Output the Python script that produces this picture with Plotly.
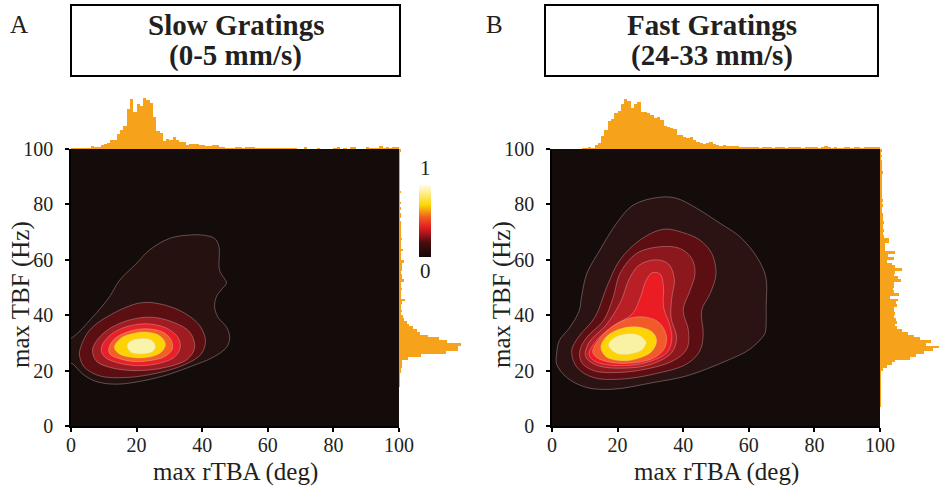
import plotly.graph_objects as go

W, H = 940, 494
FONT = "Liberation Serif"
ORANGE = "#F7A21B"

# ---------------- marginal histogram data (1-unit bins, 0..99) ----------------
bin_centers = [i + 0.5 for i in range(100)]

slow_rtba_counts = [1, 1, 1, 2, 2, 3, 8, 6, 5, 11,
                    16, 19, 28, 28, 46, 58, 70, 120, 150, 112,
                    136, 130, 154, 148, 138, 96, 55, 48, 24, 31,
                    28, 35, 26, 20, 22, 12, 14, 15, 15, 12,
                    12, 9, 9, 11, 11, 7, 7, 3, 3, 3,
                    5, 5, 3, 5, 5, 6, 3, 3, 3, 3,
                    2, 3, 1, 1, 1, 1, 3, 3, 3, 0,
                    0, 6, 0, 0, 0, 3, 0, 0, 0, 0,
                    3, 6, 0, 3, 0, 6, 6, 0, 0, 0,
                    6, 3, 3, 3, 9, 3, 6, 3, 6, 6]

slow_tbf_counts = [0, 0, 0, 0, 0, 0, 0, 0, 0, 0,
                   0, 0, 0, 0, 2, 2, 1, 2, 2, 4,
                   4, 8, 8, 8, 28, 66, 140, 176, 177, 185,
                   143, 119, 86, 63, 54, 41, 30, 24, 14, 13,
                   7, 8, 6, 7, 8, 18, 6, 7, 6, 8,
                   6, 6, 15, 8, 9, 7, 10, 8, 8, 15,
                   5, 4, 5, 11, 6, 7, 5, 8, 6, 5,
                   4, 6, 5, 4, 3, 5, 4, 3, 4, 3,
                   4, 3, 2, 3, 4, 2, 3, 2, 3, 2,
                   2, 3, 2, 1, 2, 3, 2, 2, 3, 4]

fast_rtba_counts = [0, 0, 0, 0, 0, 0, 0, 0, 0, 1,
                    3, 5, 3, 11, 19, 40, 58, 85, 90, 109,
                    115, 135, 150, 145, 122, 136, 140, 112, 111, 107,
                    102, 94, 95, 88, 70, 65, 62, 61, 42, 42,
                    36, 33, 35, 28, 21, 17, 15, 19, 20, 15,
                    12, 10, 12, 8, 8, 9, 8, 6, 6, 5,
                    4, 5, 4, 3, 5, 4, 4, 3, 5, 4,
                    4, 3, 5, 4, 5, 4, 3, 4, 5, 4,
                    4, 3, 4, 8, 4, 3, 4, 3, 3, 4,
                    5, 3, 4, 5, 3, 4, 5, 6, 4, 5]

fast_tbf_counts = [0, 0, 0, 0, 0, 0, 0, 2, 1, 2,
                   1, 2, 2, 1, 2, 2, 1, 2, 3, 3,
                   9, 21, 36, 45, 90, 110, 134, 161, 180, 141,
                   156, 121, 104, 84, 66, 53, 46, 51, 49, 43,
                   46, 41, 43, 51, 48, 56, 31, 57, 41, 39,
                   41, 41, 63, 56, 41, 44, 68, 44, 36, 21,
                   41, 23, 44, 16, 16, 16, 26, 27, 12, 10,
                   12, 9, 10, 11, 10, 10, 8, 6, 7, 8,
                   6, 8, 6, 5, 6, 5, 5, 6, 4, 5,
                   5, 10, 4, 5, 4, 6, 3, 4, 3, 5]

# ---------------- density contour outlines (deg, Hz), outer -> inner ----------------
slow_level_x = [
    [-3, 0.5, 6.6, 11.7, 14.8, 19.9, 23.9, 30.0, 35.6, 40.2, 43.8, 45.1, 45.3, 47.4, 46.1, 44.3, 43.8, 44.8, 47.4, 48.4, 47.4, 43.3, 37.2, 30.0, 21.9, 13.7, 7.6, 3.6, 0.5, -3],
    [2.7, 5.6, 11.7, 20.9, 27.0, 34.1, 39.2, 41.0, 39.7, 35.1, 27.0, 16.8, 8.7, 4.1, 2.7],
    [6.6, 9.7, 15.8, 23.9, 31.1, 36.2, 37.7, 35.6, 29.0, 19.9, 11.7, 7.6],
    [9.2, 11.2, 15.8, 22.9, 29.0, 32.6, 33.3, 31.5, 26.0, 19.9, 13.7, 10.2],
    [11.5, 13.2, 17.8, 22.9, 28.0, 30.5, 30.9, 28.5, 24.0, 18.8, 14.3, 11.9],
    [13.2, 15.3, 19.3, 22.9, 27.0, 28.8, 27.5, 23.4, 18.3, 14.5],
    [17.1, 18.3, 21.4, 24.4, 25.7, 25.0, 21.4, 18.2],
]
slow_level_y = [
    [30, 32.0, 39.3, 46.6, 52.6, 58.6, 63.5, 67.7, 68.9, 68.9, 67.7, 64.9, 56.2, 51.6, 49.6, 46.6, 42.9, 39.3, 35.7, 32.0, 28.4, 24.8, 21.8, 18.7, 16.3, 15.1, 16.1, 18.7, 22.4, 24],
    [27.4, 34.5, 39.9, 44.4, 44.1, 41.1, 36.3, 30.8, 26.0, 22.4, 19.3, 17.5, 18.1, 21.2, 24.8],
    [27.8, 33.3, 37.5, 39.3, 37.5, 33.9, 28.4, 24.2, 21.2, 20.0, 21.2, 23.6],
    [27.8, 32.0, 35.4, 36.9, 35.4, 32.0, 28.4, 24.8, 22.4, 21.8, 23.0, 25.0],
    [27.8, 31.4, 34.2, 35.1, 33.9, 31.1, 27.8, 25.0, 23.6, 23.3, 24.5, 25.9],
    [28.4, 31.8, 33.5, 33.9, 32.6, 29.6, 26.6, 24.8, 24.8, 26.2],
    [29.0, 30.8, 31.6, 31.1, 29.0, 27.0, 26.0, 26.7],
]
slow_level_colors = ["#261111", "#5c0f12", "#a01c22", "#e8202a", "#f26122", "#fdd304", "#f9f3ac"]

fast_level_x = [
    [1.4, 2.2, 5.5, 8.3, 9.0, 10.6, 14.6, 19.7, 24.8, 32.9, 38.0, 44.1, 51.2, 57.3, 62.4, 65.2, 65.3, 65.2, 64.9, 60.4, 53.3, 41.1, 30.9, 18.7, 10.6, 4.5, 1.4],
    [6.0, 8.0, 13.1, 16.7, 20.7, 26.8, 33.9, 40.0, 45.1, 48.7, 50.0, 48.2, 45.6, 46.1, 45.1, 41.1, 30.9, 20.7, 12.6, 7.6],
    [8.5, 10.6, 15.7, 18.7, 20.7, 25.8, 32.9, 39.0, 42.6, 43.6, 42.1, 40.0, 41.6, 41.1, 37.0, 28.9, 19.7, 12.6, 9.0],
    [10.1, 11.5, 16.5, 21.0, 23.5, 26.5, 31.5, 35.5, 37.3, 36.5, 36.3, 38.0, 36.5, 30.0, 22.0, 14.5, 11.0],
    [11.3, 13.3, 18.5, 24.5, 27.0, 28.5, 30.5, 33.0, 34.0, 34.0, 36.0, 36.5, 35.0, 29.0, 22.0, 15.0, 12.3],
    [12.4, 14.5, 18.5, 24.0, 28.5, 32.5, 34.8, 34.3, 30.5, 22.0, 16.0, 13.3],
    [14.9, 16.8, 21.5, 26.5, 30.5, 31.9, 30.5, 26.0, 21.0, 16.5],
    [17.2, 19.2, 23.0, 26.5, 28.7, 27.5, 24.0, 19.5],
]
fast_level_y = [
    [26.0, 30.8, 35.7, 41.7, 46.6, 55.0, 63.5, 73.2, 79.8, 82.6, 82.2, 78.6, 73.2, 68.3, 61.1, 53.8, 43.5, 35.0, 33.3, 27.8, 23.6, 18.1, 15.7, 13.3, 13.9, 17.5, 22.4],
    [27.2, 32.0, 39.3, 50.2, 59.9, 67.1, 71.0, 69.8, 67.1, 62.3, 55.0, 47.8, 41.7, 33.3, 27.2, 22.4, 18.7, 16.9, 17.5, 21.2],
    [27.2, 32.0, 38.1, 46.6, 55.0, 62.3, 64.7, 64.1, 60.5, 55.0, 49.0, 41.7, 34.5, 27.8, 23.6, 20.6, 19.3, 20.0, 23.0],
    [26.0, 30.5, 36.5, 45.0, 53.0, 58.0, 60.0, 58.5, 53.0, 46.0, 39.0, 32.0, 26.5, 22.2, 20.9, 21.6, 23.8],
    [26.0, 30.5, 36.0, 40.5, 46.6, 52.0, 55.3, 54.8, 50.0, 43.0, 36.0, 31.0, 26.5, 23.0, 21.8, 22.5, 24.0],
    [27.0, 31.5, 36.0, 39.0, 39.3, 37.5, 33.0, 28.0, 24.3, 22.6, 23.5, 25.0],
    [28.5, 32.5, 35.3, 35.7, 34.0, 31.0, 27.0, 24.3, 23.6, 25.0],
    [29.3, 32.0, 33.3, 32.8, 30.3, 27.5, 26.0, 26.3],
]
fast_level_colors = ["#2c1313", "#5c0e12", "#8c181d", "#bb1f26", "#ec1c24", "#f15a29", "#fed304", "#f9f2a2"]

x_ticks = [0, 20, 40, 60, 80, 100]
y_ticks = [0, 20, 40, 60, 80, 100]

hot_scale = [[0.0, "#120808"], [0.2, "#4a0c0e"], [0.4, "#e01b23"], [0.55, "#f15a24"],
             [0.72, "#fdd700"], [1.0, "#fffbe8"]]

# ---------------- figure ----------------
fig = go.Figure()

def add_panel(level_x, level_y, colors, rtba, tbf, xm, ym, xt, yt, xr, yr):
    for lx, ly, c in zip(level_x, level_y, colors):
        fig.add_trace(go.Scatter(
            x=lx + [lx[0]], y=ly + [ly[0]], mode="lines", fill="toself", fillcolor=c,
            line=dict(color="rgba(225,200,200,0.5)", width=0.7, shape="spline", smoothing=1.0),
            xaxis=xm, yaxis=ym, hoverinfo="skip", showlegend=False))
    fig.add_trace(go.Bar(x=bin_centers, y=rtba, width=1.0, marker=dict(color=ORANGE, line=dict(width=0)),
                         xaxis=xt, yaxis=yt, showlegend=False, hoverinfo="skip"))
    fig.add_trace(go.Bar(y=bin_centers, x=tbf, width=1.0, orientation="h",
                         marker=dict(color=ORANGE, line=dict(width=0)),
                         xaxis=xr, yaxis=yr, showlegend=False, hoverinfo="skip"))

add_panel(slow_level_x, slow_level_y, slow_level_colors, slow_rtba_counts, slow_tbf_counts,
          "x", "y", "x2", "y2", "x3", "y3")
add_panel(fast_level_x, fast_level_y, fast_level_colors, fast_rtba_counts, fast_tbf_counts,
          "x4", "y4", "x5", "y5", "x6", "y6")

# colour bar (panel A)
fig.add_trace(go.Scatter(
    x=[-50], y=[-50], mode="markers", xaxis="x", yaxis="y", showlegend=False, hoverinfo="skip",
    marker=dict(color=[0.5], cmin=0, cmax=1, colorscale=hot_scale, showscale=True,
                colorbar=dict(x=419 / W, xanchor="left", y=1 - 221 / H, yanchor="middle",
                              len=72 / H, lenmode="fraction", thickness=12, thicknessmode="pixels",
                              outlinewidth=0, showticklabels=False, ticks="", xpad=0, ypad=0))))

def px(v):
    return v / W

def py(v):
    return 1 - v / H

main_y_dom = [py(426), py(149)]
top_y_dom = [py(149), py(94)]
tickfont = dict(family=FONT, size=20, color="#231f20")

def main_axis(dom, vals, standoff):
    return dict(domain=dom, range=[0, 100], tickvals=vals, ticks="outside", ticklen=4, tickwidth=1.5,
                tickcolor="black", showline=True, linecolor="black", linewidth=1.5, showgrid=False,
                zeroline=False, tickfont=tickfont, fixedrange=True, automargin=False,
                ticklabelstandoff=standoff)

def hidden(dom, rng):
    return dict(domain=dom, range=rng, visible=False, showgrid=False, zeroline=False, fixedrange=True)

fig.update_layout(
    width=W, height=H, margin=dict(l=0, r=0, t=0, b=0, autoexpand=False),
    paper_bgcolor="white", plot_bgcolor="rgba(0,0,0,0)", bargap=0, showlegend=False,
    xaxis=dict(main_axis([px(71), px(399)], x_ticks, -4), anchor="y"),
    yaxis=dict(main_axis(main_y_dom, y_ticks, 8), anchor="x"),
    xaxis2=dict(hidden([px(71), px(399)], [0, 100]), anchor="y2"),
    yaxis2=dict(hidden(top_y_dom, [0, 165]), anchor="x2"),
    xaxis3=dict(hidden([px(399), px(465)], [0, 198]), anchor="y3"),
    yaxis3=dict(hidden(main_y_dom, [0, 100]), anchor="x3"),
    xaxis4=dict(main_axis([px(552), px(880)], x_ticks, -4), anchor="y4"),
    yaxis4=dict(main_axis(main_y_dom, y_ticks, 8), anchor="x4"),
    xaxis5=dict(hidden([px(552), px(880)], [0, 100]), anchor="y5"),
    yaxis5=dict(hidden(top_y_dom, [0, 165]), anchor="x5"),
    xaxis6=dict(hidden([px(880), px(940)], [0, 182]), anchor="y6"),
    yaxis6=dict(hidden(main_y_dom, [0, 100]), anchor="x6"),
)

# dark plot backgrounds + title boxes
for xr, yr in (("x", "y"), ("x4", "y4")):
    fig.add_shape(type="rect", xref=xr, yref=yr, x0=0, x1=100, y0=0, y1=100,
                  fillcolor="#140b0b", line=dict(width=0), layer="below")
for x0, x1 in ((71, 400), (545, 878)):
    fig.add_shape(type="rect", xref="paper", yref="paper", x0=px(x0), x1=px(x1), y0=py(76), y1=py(5),
                  line=dict(color="black", width=2), fillcolor="rgba(0,0,0,0)")

ann = []
def text(t, x, y, size, angle=0, bold=False):
    ann.append(dict(text=f"<b>{t}</b>" if bold else t, x=px(x), y=py(y), xref="paper", yref="paper",
                    showarrow=False, xanchor="center", yanchor="middle", textangle=angle,
                    font=dict(family=FONT, size=size, color="#231f20")))

text("Slow Gratings", 235.5, 25, 29, bold=True)
text("(0-5 mm/s)", 235.5, 55, 29, bold=True)
text("Fast Gratings", 711.5, 25, 29, bold=True)
text("(24-33 mm/s)", 711.5, 55, 29, bold=True)
text("A", 19, 24, 25)
text("B", 495, 24, 25)
text("max rTBA (deg)", 235, 472, 25)
text("max rTBA (deg)", 716, 472, 25)
text("max TBF (Hz)", 21, 295, 25, angle=-90)
text("max TBF (Hz)", 502, 295, 25, angle=-90)
text("1", 425, 168, 21)
text("0", 425, 271, 21)
fig.update_layout(annotations=ann)

fig.write_html("out.html", config={"displayModeBar": False},
               post_script="document.body.style.margin='0px';")
